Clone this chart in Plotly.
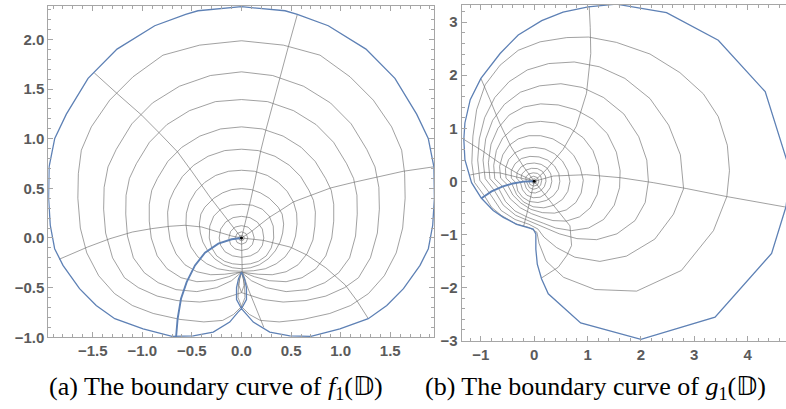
import plotly.graph_objects as go

# ---------------- Panel (a): f1(D) ----------------
# right halves of the mesh rings (panel is mirror-symmetric about x = 0)
F1_RING_1 = [(0, 1.986), (0.422, 1.942), (0.792, 1.841), (1.094, 1.623), (1.329, 1.388), (1.514, 1.119),
             (1.615, 0.884), (1.645, 0.649), (1.65, 0.40), (1.625, 0.10), (1.56, -0.15), (1.44, -0.38),
             (1.28, -0.56), (1.10, -0.68), (0.89, -0.76), (0.62, -0.82), (0.38, -0.845), (0.19, -0.83),
             (0.08, -0.77), (0, -0.69), (-0.035, -0.6), (-0.03, -0.46), (0, -0.345)]
F1_RING_2 = [(0, 1.673), (0.314, 1.636), (0.626, 1.528), (0.897, 1.36), (1.106, 1.149), (1.263, 0.892),
             (1.346, 0.716), (1.385, 0.51), (1.39, 0.29), (1.37, 0.05), (1.30, -0.2), (1.18, -0.40),
             (1.04, -0.50), (0.85, -0.585), (0.65, -0.63), (0.42, -0.645), (0.22, -0.62), (0.09, -0.58),
             (0, -0.55), (-0.025, -0.48), (-0.02, -0.41), (0, -0.345)]
F1_RING_3 = [(0, 1.394), (0.263, 1.373), (0.525, 1.282), (0.753, 1.141), (0.928, 0.964), (1.06, 0.748),
             (1.13, 0.60), (1.164, 0.43), (1.167, 0.24), (1.15, 0.02), (1.09, -0.2), (0.98, -0.35),
             (0.84, -0.45), (0.66, -0.52), (0.45, -0.54), (0.25, -0.50), (0.10, -0.43), (0.03, -0.37), (0, -0.345)]
F1_RING_4 = [(0, 1.119), (0.211, 1.098), (0.42, 1.026), (0.602, 0.913), (0.743, 0.771), (0.848, 0.599),
             (0.905, 0.48), (0.93, 0.34), (0.93, 0.17), (0.91, 0.0), (0.85, -0.18), (0.75, -0.31),
             (0.61, -0.40), (0.45, -0.44), (0.28, -0.43), (0.13, -0.39), (0.04, -0.355), (0, -0.345)]
F1_RING_5 = [(0, 0.894), (0.169, 0.88), (0.337, 0.823), (0.483, 0.732), (0.596, 0.619), (0.68, 0.48),
             (0.725, 0.38), (0.745, 0.26), (0.74, 0.12), (0.72, -0.02), (0.66, -0.16), (0.57, -0.27),
             (0.45, -0.34), (0.31, -0.37), (0.17, -0.365), (0.06, -0.35), (0, -0.345)]
F1_RING_6 = [(0, 0.682), (0.13, 0.672), (0.26, 0.63), (0.37, 0.56), (0.46, 0.47), (0.525, 0.36),
             (0.556, 0.25), (0.56, 0.14), (0.545, 0.02), (0.51, -0.09), (0.44, -0.19), (0.35, -0.26),
             (0.24, -0.31), (0.12, -0.33), (0, -0.335)]
F1_RING_7 = [(0, 0.497), (0.10, 0.487), (0.19, 0.455), (0.28, 0.40), (0.37, 0.31), (0.41, 0.24),
             (0.425, 0.14), (0.415, 0.05), (0.39, -0.04), (0.34, -0.13), (0.27, -0.21), (0.18, -0.27),
             (0.09, -0.30), (0, -0.31)]
F1_RING_8 = [(0, 0.339), (0.11, 0.33), (0.21, 0.29), (0.28, 0.22), (0.32, 0.12), (0.325, 0.0),
             (0.30, -0.10), (0.25, -0.18), (0.17, -0.235), (0.09, -0.26), (0, -0.268)]
F1_RING_9 = [(0, 0.218), (0.085, 0.205), (0.16, 0.16), (0.21, 0.09), (0.225, 0.0), (0.21, -0.075),
             (0.165, -0.14), (0.09, -0.18), (0, -0.195)]
F1_RING_10 = [(0, 0.124), (0.065, 0.11), (0.11, 0.065), (0.128, 0), (0.11, -0.065), (0.065, -0.11), (0, -0.126)]
F1_RING_11 = [(0, 0.062), (0.045, 0.045), (0.064, 0), (0.045, -0.045), (0, -0.063)]
F1_RING_12 = [(0, 0.026), (0.02, 0.02), (0.028, 0), (0.02, -0.02), (0, -0.028)]

F1_RAY_A = [(0, 0), (0.029, 0.111), (0.059, 0.245), (0.092, 0.380), (0.136, 0.581), (0.193, 0.874),
            (0.247, 1.092), (0.311, 1.337), (0.388, 1.616), (0.472, 1.925), (0.563, 2.251)]
F1_RAY_B = [(0, 0), (-0.151, 0.195), (-0.319, 0.413), (-0.497, 0.665), (-0.645, 0.867), (-0.823, 1.052),
            (-1.007, 1.237), (-1.236, 1.438), (-1.485, 1.663)]
F1_RAY_C = [(0, 0), (-0.099, 0.02), (-0.234, 0.06), (-0.402, 0.111), (-0.57, 0.128), (-0.721, 0.118),
            (-0.906, 0.094), (-1.1, 0.06), (-1.326, -0.007), (-1.551, -0.091), (-1.84, -0.215)]
F1_RAY_D = [(0, 0), (0.102, 0.067), (0.186, 0.134), (0.287, 0.212), (0.395, 0.279), (0.523, 0.363),
            (0.701, 0.43), (0.899, 0.504), (1.12, 0.558), (1.362, 0.615), (1.631, 0.672), (1.934, 0.716)]
F1_RAY_E = [(0, 0), (0.22, -0.024), (0.489, -0.091), (0.657, -0.17), (0.85, -0.3), (1.043, -0.47),
            (1.161, -0.628), (1.279, -0.813)]
F1_RAY_F = [(0, 0), (0.003, -0.175), (0.007, -0.335), (0.067, -0.511), (0.134, -0.679), (0.225, -0.90)]
F1_SLIT = [(0, 0), (-0.099, -0.013), (-0.234, -0.057), (-0.368, -0.148), (-0.469, -0.276), (-0.553, -0.444),
           (-0.61, -0.612), (-0.644, -0.813), (-0.66, -1.0)]
# right half of the boundary (from top, clockwise, ending in the small loop)
F1_BOUNDARY = [(0, 2.329), (0.439, 2.288), (0.563, 2.252), (0.875, 2.137), (1.255, 1.902), (1.547, 1.607),
               (1.766, 1.247), (1.883, 1.002), (1.94, 0.716), (1.945, 0.40), (1.928, 0.128), (1.884, -0.108),
               (1.8, -0.276), (1.633, -0.51), (1.465, -0.679), (1.278, -0.813), (0.992, -0.914), (0.70, -0.99),
               (0.487, -0.985), (0.285, -0.948), (0.119, -0.847), (0.035, -0.746), (0, -0.712), (-0.05, -0.62),
               (-0.05, -0.5), (-0.03, -0.41), (0, -0.343)]

# ---------------- Panel (b): g1(D) ----------------
G1_RING_1 = [(-0.93, -0.28), (-1.12, -0.02), (-1.17, 0.35), (-1.15, 0.85), (-1.08, 1.35), (-0.92, 1.82),
             (-0.64, 2.19), (-0.3, 2.47), (0.11, 2.63), (0.61, 2.71), (1.02, 2.72), (1.54, 2.62), (2.17, 2.4),
             (2.73, 2.05), (3.17, 1.65), (3.45, 1.22), (3.62, 0.68), (3.66, 0.2), (3.61, -0.29), (3.36, -0.93),
             (2.76, -1.68), (1.92, -2.07), (1.14, -2.04), (0.55, -1.81), (0.22, -1.5), (0.09, -1.17),
             (0.05, -0.96), (-0.1, -0.87), (-0.35, -0.8), (-0.62, -0.64), (-0.8, -0.49), (-0.93, -0.28)]
G1_RING_2 = [(-0.84, -0.22), (-1.02, 0.02), (-1.06, 0.4), (-1.03, 0.8), (-0.93, 1.2), (-0.74, 1.58),
             (-0.47, 1.88), (-0.13, 2.1), (0.27, 2.22), (0.75, 2.25), (1.22, 2.16), (1.7, 1.94), (2.17, 1.56),
             (2.52, 1.06), (2.74, 0.5), (2.8, -0.14), (2.61, -0.62), (2.26, -1.09), (1.73, -1.41), (1.23, -1.51),
             (0.76, -1.43), (0.42, -1.25), (0.18, -1.05), (0.07, -0.9), (-0.1, -0.81), (-0.36, -0.72),
             (-0.62, -0.55), (-0.84, -0.22)]
G1_RING_3 = [(-0.75, -0.17), (-0.92, 0.05), (-0.96, 0.4), (-0.91, 0.8), (-0.78, 1.15), (-0.56, 1.45),
             (-0.26, 1.68), (0.1, 1.8), (0.5, 1.84), (0.9, 1.77), (1.3, 1.58), (1.68, 1.27), (1.96, 0.84),
             (2.11, 0.4), (2.14, 0.0), (2.08, -0.4), (1.89, -0.74), (1.55, -0.99), (1.17, -1.1), (0.8, -1.08),
             (0.47, -0.99), (0.22, -0.88), (0.07, -0.82), (-0.1, -0.75), (-0.35, -0.64), (-0.58, -0.45),
             (-0.75, -0.17)]
G1_RING_4 = [(-0.67, -0.13), (-0.83, 0.05), (-0.86, 0.35), (-0.81, 0.7), (-0.68, 1.0), (-0.47, 1.25),
             (-0.2, 1.4), (0.12, 1.46), (0.45, 1.44), (0.78, 1.35), (1.1, 1.17), (1.37, 0.9), (1.54, 0.55),
             (1.61, 0.2), (1.6, -0.12), (1.5, -0.45), (1.3, -0.72), (1.02, -0.88), (0.7, -0.93), (0.4, -0.88),
             (0.17, -0.79), (0.03, -0.73), (-0.12, -0.68), (-0.36, -0.56), (-0.54, -0.38), (-0.67, -0.13)]
G1_RING_5 = [(-0.59, -0.1), (-0.74, 0.05), (-0.76, 0.3), (-0.71, 0.58), (-0.59, 0.82), (-0.39, 1.0),
             (-0.15, 1.1), (0.12, 1.13), (0.4, 1.1), (0.67, 1.0), (0.92, 0.82), (1.1, 0.58), (1.2, 0.3),
             (1.23, 0.03), (1.18, -0.25), (1.05, -0.5), (0.85, -0.67), (0.6, -0.75), (0.35, -0.74),
             (0.14, -0.68), (-0.05, -0.61), (-0.26, -0.5), (-0.45, -0.33), (-0.59, -0.1)]
G1_RING_6 = [(-0.5, -0.07), (-0.63, 0.06), (-0.65, 0.28), (-0.59, 0.5), (-0.47, 0.68), (-0.3, 0.8),
             (-0.1, 0.86), (0.12, 0.86), (0.35, 0.8), (0.56, 0.67), (0.74, 0.49), (0.86, 0.27), (0.92, 0.02),
             (0.88, -0.22), (0.78, -0.4), (0.6, -0.54), (0.38, -0.6), (0.15, -0.59), (-0.06, -0.53),
             (-0.25, -0.41), (-0.4, -0.26), (-0.5, -0.07)]
G1_RING_7 = [(-0.42, -0.045), (-0.53, 0.06), (-0.54, 0.24), (-0.48, 0.41), (-0.36, 0.54), (-0.19, 0.62),
             (0.0, 0.64), (0.2, 0.61), (0.38, 0.52), (0.53, 0.38), (0.63, 0.2), (0.67, 0.0), (0.63, -0.19),
             (0.53, -0.34), (0.37, -0.45), (0.18, -0.5), (-0.02, -0.48), (-0.2, -0.39), (-0.33, -0.25),
             (-0.42, -0.045)]
G1_RING_8 = [(-0.34, -0.03), (-0.43, 0.06), (-0.43, 0.2), (-0.36, 0.33), (-0.24, 0.43), (-0.08, 0.47),
             (0.09, 0.46), (0.25, 0.4), (0.38, 0.29), (0.46, 0.15), (0.48, 0.0), (0.45, -0.15), (0.36, -0.27),
             (0.23, -0.36), (0.07, -0.4), (-0.09, -0.38), (-0.22, -0.3), (-0.31, -0.18), (-0.34, -0.03)]
G1_RING_9 = [(-0.26, -0.02), (-0.33, 0.06), (-0.32, 0.17), (-0.25, 0.27), (-0.14, 0.33), (0.0, 0.345),
             (0.13, 0.32), (0.24, 0.25), (0.31, 0.14), (0.33, 0.0), (0.3, -0.12), (0.22, -0.23), (0.11, -0.3),
             (-0.02, -0.31), (-0.14, -0.26), (-0.22, -0.16), (-0.26, -0.02)]
G1_RING_10 = [(-0.19, -0.01), (-0.25, 0.05), (-0.23, 0.14), (-0.16, 0.21), (-0.05, 0.245), (0.06, 0.24),
              (0.15, 0.19), (0.21, 0.1), (0.22, 0.0), (0.19, -0.1), (0.12, -0.18), (0.02, -0.22),
              (-0.08, -0.21), (-0.15, -0.13), (-0.19, -0.01)]
G1_RING_11 = [(-0.15, 0.0), (-0.16, 0.08), (-0.1, 0.14), (-0.02, 0.16), (0.06, 0.15), (0.12, 0.1),
              (0.14, 0.02), (0.12, -0.07), (0.06, -0.13), (-0.02, -0.15), (-0.09, -0.12), (-0.15, 0.0)]
G1_RING_12 = [(-0.1, 0.0), (-0.08, 0.07), (-0.01, 0.095), (0.06, 0.07), (0.085, 0.0), (0.06, -0.07),
              (-0.01, -0.09), (-0.08, -0.06), (-0.1, 0.0)]
G1_RING_13 = [(-0.045, 0), (-0.03, 0.035), (0.0, 0.047), (0.03, 0.035), (0.045, 0), (0.03, -0.035),
              (0, -0.045), (-0.03, -0.035), (-0.045, 0)]

G1_RAY_A = [(0, 0), (0.23, 0.225), (0.54, 0.6), (0.79, 1.04), (0.98, 1.66), (1.06, 2.41), (1.05, 2.9), (1.03, 3.3)]
G1_RAY_B = [(0, 0), (-0.21, 0.29), (-0.44, 0.66), (-0.65, 1.1), (-0.83, 1.54), (-1.0, 1.94)]
G1_RAY_C = [(0, 0), (-0.3, 0.14), (-0.64, 0.34), (-0.98, 0.58), (-1.32, 0.79)]
G1_RAY_D = [(0, 0), (-0.3, 0.08), (-0.65, 0.16), (-0.95, 0.17), (-1.2, 0.12)]
G1_RAY_E = [(0, 0), (0.36, 0.1), (0.98, 0.125), (1.61, 0.069), (2.23, -0.025), (2.86, -0.138),
            (3.61, -0.288), (4.74, -0.49)]
G1_RAY_F = [(0, 0), (0.17, -0.21), (0.42, -0.54), (0.67, -0.84), (0.7, -1.21), (0.61, -1.4),
            (0.45, -1.62), (0.14, -1.82)]
G1_RAY_G = [(0, 0), (-0.06, -0.3), (-0.13, -0.58), (-0.2, -0.85)]
G1_SLIT = [(0, 0), (-0.2, -0.005), (-0.4, -0.04), (-0.6, -0.1), (-0.8, -0.19), (-0.99, -0.32)]
G1_BOUNDARY = [(-0.99, -0.32), (-1.175, -0.025), (-1.3, 0.41), (-1.32, 0.79), (-1.3, 1.1), (-1.2, 1.54),
               (-1.0, 1.94), (-0.64, 2.41), (-0.3, 2.76), (0.14, 3.03), (0.54, 3.19), (1.01, 3.29),
               (1.54, 3.34), (1.92, 3.28), (2.48, 3.18), (3.45, 2.66), (4.33, 1.69), (4.73, 0.41),
               (4.78, 0.0), (4.72, -0.48), (4.45, -1.36), (3.39, -2.56), (2.0, -2.98), (0.87, -2.67),
               (0.263, -2.12), (0.138, -1.84), (0.057, -1.56), (0.03, -1.28), (0.03, -0.99), (-0.02, -0.9),
               (-0.11, -0.87), (-0.33, -0.81), (-0.58, -0.68), (-0.77, -0.55), (-0.99, -0.32)]

ORIGIN = [(0, 0)]

F1_XTICKS = [-1.5, -1.0, -0.5, 0.0, 0.5, 1.0, 1.5]
F1_YTICKS = [-1.0, -0.5, 0.0, 0.5, 1.0, 1.5, 2.0]
G1_XTICKS = [-1, 0, 1, 2, 3, 4]
G1_YTICKS = [-3, -2, -1, 0, 1, 2, 3]

CAPTION_A = "(a) The boundary curve of <i>f</i><sub>1</sub>(𝔻)"
CAPTION_B = "(b) The boundary curve of <i>g</i><sub>1</sub>(𝔻)"

MESH = "rgba(115,115,115,0.75)"
BLUE = "#5E81B5"

fig = go.Figure()


def mirrored(half):
    return list(half) + [(-x, y) for (x, y) in reversed(half)]


def add(pts, ax, color, width):
    fig.add_trace(go.Scatter(x=[p[0] for p in pts], y=[p[1] for p in pts], mode="lines",
                             line=dict(color=color, width=width), xaxis=ax[0], yaxis=ax[1],
                             hoverinfo="skip", showlegend=False))


A = ("x", "y")
B = ("x2", "y2")
for ring in [F1_RING_1, F1_RING_2, F1_RING_3, F1_RING_4, F1_RING_5, F1_RING_6, F1_RING_7,
             F1_RING_8, F1_RING_9, F1_RING_10, F1_RING_11, F1_RING_12]:
    add(mirrored(ring), A, MESH, 0.9)
for ray in [F1_RAY_A, F1_RAY_B, F1_RAY_C, F1_RAY_D, F1_RAY_E, F1_RAY_F]:
    add(ray, A, MESH, 0.9)
add(mirrored(F1_BOUNDARY), A, BLUE, 1.3)
add(F1_SLIT, A, BLUE, 1.9)

for ring in [G1_RING_1, G1_RING_2, G1_RING_3, G1_RING_4, G1_RING_5, G1_RING_6, G1_RING_7,
             G1_RING_8, G1_RING_9, G1_RING_10, G1_RING_11, G1_RING_12, G1_RING_13]:
    add(ring, B, MESH, 0.9)
for ray in [G1_RAY_A, G1_RAY_B, G1_RAY_C, G1_RAY_D, G1_RAY_E, G1_RAY_F, G1_RAY_G]:
    add(ray, B, MESH, 0.9)
add(G1_BOUNDARY, B, BLUE, 1.3)
add(G1_SLIT, B, BLUE, 1.9)

for ax in (A, B):
    fig.add_trace(go.Scatter(x=[p[0] for p in ORIGIN], y=[p[1] for p in ORIGIN], mode="markers",
                             marker=dict(color="black", size=3), xaxis=ax[0], yaxis=ax[1],
                             hoverinfo="skip", showlegend=False))

W, H = 786, 409
tickfont = dict(family="Liberation Sans", size=15, color="#5a5a5a")
frame = "#a6a6a6"


def axis(domain, rng, tickvals, fmt, minor_dtick, mirror="allticks", anchor=None):
    d = dict(domain=domain, range=rng, tickvals=tickvals, automargin=False,
             ticktext=["<b>" + (fmt % v).replace("-", "\u2212") + "</b>" for v in tickvals],
             ticks="inside", ticklen=5, tickwidth=1, tickcolor=frame,
             showline=True, linecolor=frame, linewidth=1, mirror=mirror,
             showgrid=False, zeroline=False, tickfont=tickfont,
             minor=dict(ticks="inside", ticklen=3, tickcolor=frame, dtick=minor_dtick, tick0=0,
                        showgrid=False))
    if anchor:
        d["anchor"] = anchor
    return d


fig.update_layout(
    width=W, height=H, margin=dict(l=0, r=0, t=0, b=0, autoexpand=False),
    paper_bgcolor="white", plot_bgcolor="white",
    xaxis=axis([48.3 / W, 434.3 / W], [-1.948, 1.944], F1_XTICKS, "%.1f", 0.1, anchor="y"),
    yaxis=axis([1 - 337.3 / H, 1 - 5.7 / H], [-1.0, 2.339], F1_YTICKS, "%.1f", 0.1, anchor="x"),
    xaxis2=axis([461.7 / W, 1.0], [-1.36, 4.72], G1_XTICKS, "%d", 0.2, anchor="y2"),
    yaxis2=axis([1 - 340.7 / H, 1 - 4.7 / H], [-3.005, 3.33], G1_YTICKS, "%d", 0.2, mirror=False, anchor="x2"),
    annotations=[
        dict(text=CAPTION_A, x=47 / W, y=1 - 388 / H, xref="paper", yref="paper", xanchor="left",
             yanchor="middle", showarrow=False, font=dict(family="Liberation Serif", size=26, color="black")),
        dict(text=CAPTION_B, x=423 / W, y=1 - 388 / H, xref="paper", yref="paper", xanchor="left",
             yanchor="middle", showarrow=False, font=dict(family="Liberation Serif", size=26, color="black")),
    ],
)

fig.write_html("out.html", config={"displayModeBar": False},
               post_script="document.body.style.margin='0px';")
